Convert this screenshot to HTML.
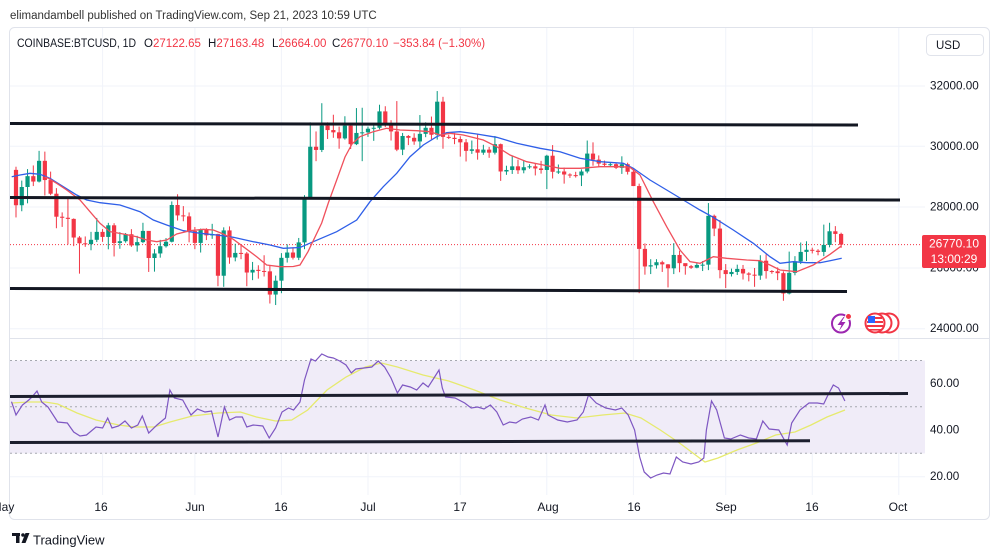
<!DOCTYPE html>
<html><head><meta charset="utf-8">
<style>
html,body{margin:0;padding:0;background:#fff;width:1000px;height:557px;overflow:hidden;position:relative;font-family:"Liberation Sans",sans-serif;}
svg{position:absolute;left:0;top:0;}
</style></head><body>
<svg width="1000" height="557">
  <text x="10" y="19" font-size="11.5" fill="#333" font-family="Liberation Sans, sans-serif">elimandambell published on TradingView.com, Sep 21, 2023 10:59 UTC</text>
  <rect x="9.5" y="27.5" width="980" height="492" rx="5" fill="none" stroke="#e0e3eb"/>
  <g stroke="#f0f3fa" stroke-width="1">
    <line x1="102.6" y1="28" x2="102.6" y2="495"/>
    <line x1="194.9" y1="28" x2="194.9" y2="495"/>
    <line x1="281.4" y1="28" x2="281.4" y2="495"/>
    <line x1="368" y1="28" x2="368" y2="495"/>
    <line x1="460.3" y1="28" x2="460.3" y2="495"/>
    <line x1="546.8" y1="28" x2="546.8" y2="495"/>
    <line x1="633.4" y1="28" x2="633.4" y2="495"/>
    <line x1="725.7" y1="28" x2="725.7" y2="495"/>
    <line x1="812.3" y1="28" x2="812.3" y2="495"/>
    <line x1="898.8" y1="28" x2="898.8" y2="495"/>
    <line x1="10" y1="86" x2="925" y2="86"/>
    <line x1="10" y1="146.3" x2="925" y2="146.3"/>
    <line x1="10" y1="207" x2="925" y2="207"/>
    <line x1="10" y1="268" x2="925" y2="268"/>
    <line x1="10" y1="328.7" x2="925" y2="328.7"/>
    <line x1="10" y1="476.7" x2="925" y2="476.7"/>
  </g>
  <line x1="10" y1="338.5" x2="989" y2="338.5" stroke="#e0e3eb" stroke-width="1"/>
  <!-- RSI band -->
  <rect x="10" y="360.5" width="915" height="93" fill="#f0ecf8"/>
  <g stroke="#a6a8b0" stroke-width="1" stroke-dasharray="2,3">
    <line x1="10" y1="360.5" x2="925" y2="360.5"/>
    <line x1="10" y1="406.7" x2="925" y2="406.7"/>
    <line x1="10" y1="453.3" x2="925" y2="453.3"/>
  </g>
  <line x1="10" y1="244.6" x2="922" y2="244.6" stroke="#f23645" stroke-width="1" stroke-dasharray="1,2"/>
</svg>
<div id="cd" style="position:absolute;left:0;top:0;width:1000px;height:557px"></div>
<svg width="1000" height="557">
  <!-- moving averages -->
  <polyline fill="none" stroke="#2f5fe8" stroke-width="1.3" points="11.7,176.7 20,175 30,173.3 40,174.3 50,178.3 63.3,186.7 76.7,195 86.7,200 100,202.7 120,205 140,211.7 153.3,220 166.7,225 183.3,230.7 200,233.3 216.7,235 233.3,237.3 253.3,241.7 270,245 283.3,248.3 300,247.5 313.3,241.7 336.7,231.7 356.7,220 370,201.7 383.3,186.7 396.7,173.3 410,156.7 423.3,145 436.7,136.7 446.7,132.7 460,131.7 476.7,134 496.7,137.3 516.7,143.3 540,148.3 560,151.7 580,158.3 600,161.7 623.3,163.3 633.3,168.3 650,180 666.7,190 683.3,200 700,210 713.3,217.3 733.3,230 753.3,243.3 770,256.7 780,263.3 793.3,261.7 806.7,262.7 820,262.7 830,260.7 841.7,258.3"/>
  <polyline fill="none" stroke="#f0505c" stroke-width="1.3" points="45,177 48.3,178.3 56.7,183.3 66.7,190 80,200 90,211.7 100,223.3 110,231.7 123.3,234 136.7,236.7 146.7,240 156.7,241.7 166.7,240 176.7,234 190,230.7 203.3,229.3 213.3,230 223.3,234 233.3,239.3 243.3,246.7 256.7,256.7 266.7,265 280,266.7 293.3,266.5 300,265 308,251.7 321.7,223 328.3,203 336.7,180 345,157 352,144 360,136.7 373.3,131.7 386.7,128.3 400,130 416.7,130.7 430,131.7 440,135 450,133.3 463.3,135 483.3,140 496.7,146.7 510,155 526.7,161.7 543.3,165 560,168.3 580,168.3 600,166.7 620,166.7 630,167.3 640,175 653.3,201.7 666.7,226.7 680,250 690,261.7 700,263.3 706.7,260 713.3,256.7 726.7,258.3 746.7,260 760,260.7 770,265 780,270 796.7,271.7 813.3,265 830,254.3 841.7,245.7"/>
  <!-- black trend lines main -->
  <g stroke="#131722" stroke-width="3" stroke-linecap="butt">
    <line x1="10" y1="123.5" x2="858" y2="125"/>
    <line x1="10" y1="197.5" x2="900" y2="200"/>
    <line x1="10" y1="288.5" x2="847" y2="291.5"/>
  </g>
  <!-- RSI -->
  <polyline fill="none" stroke="#e6ea6e" stroke-width="1.3" points="11.5,403 28.8,402 45,402 57.7,404 77,413 96,420 118.6,425 134.6,427 153.8,427 170,422 192.3,416 218,413 240.4,412 256.4,417 275.6,421 291.7,420 307.7,410 327,390 346,377 365.4,367 381.4,363 397.4,367 423,375 448.7,381 474.4,390 500,400 525.6,408 551.3,415 577,418 602.6,415 625,413 641,418 660.3,430 679.5,443 695.5,455 705,462 718,458 737,450 756.4,443 775.6,435 795,432 811,425 827,417 845,410"/>
  <polyline fill="none" stroke="#7e57c2" stroke-width="1.2" points="11.5,401.7 16,415 22.4,405 28.8,400 32,397 37,391 41.7,402 48,407 57.7,422 67.3,423 73.7,432 80,436 86.5,435 96,427 102.6,428 107.7,418 112,428 118.6,426 125,421 131.4,428 137.8,425 142.3,416 148.7,433 157,425 165.4,418 169.9,390 174.4,398 182.7,400 191,415 197.4,409 205,412 211.5,411 218,437 224.4,407 229.5,420 235.9,417 242.3,417 246.8,427 253.2,425 262.8,426 269.2,438 275.6,428 282,412 288.5,408 293.6,410 300,402 304.5,380 311,359 315.4,361 321.8,354 328.2,357 333.3,358 339.7,361 346,365 351.3,373 355.8,369 364,368 371.8,367 378.2,361 384.6,367 391,378 397.4,393 402.6,385 410.3,387 416.7,390 423,383 428.2,387 432.7,380 439,370 442.3,388 445.5,397 455,398 464.7,403 471.2,408 477.6,407 484,409 490.4,405 496.8,412 503.2,425 509.6,422 516,423 522.4,419 530.8,417 538.5,420 545,405 548,415 557.7,420 567.3,422 577,420 583.3,412 588.5,395 596.2,403 605.8,408 615.4,410 621.8,408 628.2,415 634.6,430 639.7,457 644.2,472 650.6,478 657,475 663.5,473 670,474 676.3,457 682.7,462 691,464 698.7,462 703.8,458 706.4,430 711.5,401 716.7,410 724.4,438 730.8,439 740.4,435 748.7,438 756.4,439 762.8,421 769.2,429 778.8,430 787.2,445 791.7,423 800,410 809,403 817.3,403 823.7,404 827,397 833.3,385 838.5,388 844.9,401"/>
  <g stroke="#1c1f2e" stroke-width="3">
    <line x1="10" y1="396.5" x2="908" y2="393.5"/>
    <line x1="10" y1="442.5" x2="810" y2="440.8"/>
  </g>
  <!-- icons -->
  <circle cx="841" cy="323.5" r="9" fill="#fff" stroke="#9c27b0" stroke-width="2"/>
  <path d="M843.5,317 L837.5,325 L841.5,325 L839,331 L845.5,322 L841.5,322 L844.5,317 Z" fill="#9c27b0"/>
  <circle cx="848.5" cy="316.5" r="3" fill="#f23645" stroke="#fff" stroke-width="1"/>
  <circle cx="889" cy="323" r="9.5" fill="#fff" stroke="#f23645" stroke-width="2"/>
  <circle cx="882" cy="323" r="9.5" fill="#fff" stroke="#f23645" stroke-width="2"/>
  <circle cx="875" cy="323" r="9.5" fill="#fff" stroke="#f23645" stroke-width="2"/>
  <g>
    <rect x="868" y="317" width="14" height="2" fill="#f23645"/>
    <rect x="867" y="321" width="16" height="2" fill="#f23645"/>
    <rect x="867" y="325" width="16" height="2" fill="#f23645"/>
    <rect x="868" y="329" width="14" height="1.6" fill="#f23645"/>
    <rect x="868" y="316" width="7" height="7" fill="#2962ff"/>
  </g>
  <!-- header row 2 -->
  <g font-family="Liberation Sans, sans-serif" font-size="11.5">
    <text x="17" y="47" fill="#131722" textLength="119" lengthAdjust="spacingAndGlyphs">COINBASE:BTCUSD, 1D</text>
    <text x="144" y="47" fill="#131722">O<tspan fill="#f23645">27122.65</tspan></text>
    <text x="208" y="47" fill="#131722">H<tspan fill="#f23645">27163.48</tspan></text>
    <text x="272" y="47" fill="#131722">L<tspan fill="#f23645">26664.00</tspan></text>
    <text x="332" y="47" fill="#131722">C<tspan fill="#f23645">26770.10</tspan></text>
    <text x="393" y="47" fill="#f23645">−353.84 (−1.30%)</text>
  </g>
  <!-- USD box -->
  <rect x="926.5" y="34.5" width="57" height="21" rx="4" fill="#fff" stroke="#e0e3eb"/>
  <text x="936" y="49" font-family="Liberation Sans, sans-serif" font-size="11.5" fill="#131722">USD</text>
  <!-- price axis -->
  <g font-family="Liberation Sans, sans-serif" font-size="11.7" fill="#131722" dominant-baseline="central">
    <text x="930" y="86">32000.00</text>
    <text x="930" y="146.3">30000.00</text>
    <text x="930" y="207">28000.00</text>
    <text x="930" y="268">26000.00</text>
    <text x="930" y="328.7">24000.00</text>
    <text x="930" y="383.5">60.00</text>
    <text x="930" y="430">40.00</text>
    <text x="930" y="476.7">20.00</text>
  </g>
  <rect x="922" y="235" width="64" height="33" rx="2" fill="#f23645"/>
  <g font-family="Liberation Sans, sans-serif" font-size="12" fill="#fff" dominant-baseline="central" text-anchor="middle">
    <text x="954" y="243.5">26770.10</text>
    <text x="954" y="259">13:00:29</text>
  </g>
  <!-- time axis -->
  <g font-family="Liberation Sans, sans-serif" font-size="12" fill="#131722" text-anchor="middle" dominant-baseline="central">
    <text x="3" y="507">May</text>
    <text x="101" y="507">16</text>
    <text x="195" y="507">Jun</text>
    <text x="281" y="507">16</text>
    <text x="368" y="507">Jul</text>
    <text x="460" y="507">17</text>
    <text x="548" y="507">Aug</text>
    <text x="634" y="507">16</text>
    <text x="726" y="507">Sep</text>
    <text x="812" y="507">16</text>
    <text x="898" y="507">Oct</text>
  </g>
  <!-- TradingView logo -->
  <g fill="#131722">
    <rect x="12" y="533" width="8" height="3"/>
    <rect x="16" y="533" width="3.5" height="10"/>
    <circle cx="23" cy="535" r="1.8"/>
    <path d="M25.5,533 L29.5,533 L25.5,543 L21.5,543 Z"/>
  </g>
  <text x="33" y="544.5" font-family="Liberation Sans, sans-serif" font-size="13" fill="#131722">TradingView</text>
</svg>
<script>
var D=[
[29337,27666,28068],[28880,27870,28669],[29259,28131,29026],[29379,28700,28848],[29860,28818,29531],
[29835,28388,28898],[29176,28400,28448],[28632,27310,27690],[27832,27354,27655],[28319,26777,27618],
[27634,26721,27004],[27052,25814,26814],[27040,26698,26786],[27191,26584,26929],[27650,26854,27190],
[27281,26862,27024],[27488,26616,27407],[27476,26380,26823],[27181,26634,26882],[27154,26834,27112],
[27280,26697,26744],[27060,26540,26852],[27490,26818,27222],[27220,25870,26329],[26620,25880,26479],
[26927,26341,26718],[26987,26673,26865],[28193,26843,28076],[28430,27563,27733],[28040,27540,27701],
[27830,26847,27217],
[27350,26620,26827],[27300,26510,27252],[27310,26920,27075],[27455,26960,27118],[27130,25400,25745],
[27340,25380,27239],[27370,26140,26347],[26800,26220,26497],[26780,26290,26479],[26530,25400,25851],
[26200,25600,25940],[26090,25650,25903],[26420,25720,25890],[26080,24830,25125],[25750,24780,25582],
[26490,25170,26335],[26780,26180,26510],[26680,26280,26339],[26990,26260,26844],[28400,26620,28307],
[30800,28260,29995],[30500,29520,29890],[31430,29820,30690],[30800,30250,30545],[31050,30290,30470],
[30660,29930,30270],[31000,30230,30690],[30700,29920,30080],[31270,30050,30450],[31280,29520,30470],
[30660,30320,30590],[30780,30190,30620],[31380,30570,31160],[31330,30640,30770],[30870,30200,30500],
[31500,29850,29900],[30450,29720,30350],[30380,30050,30290],[30440,30060,30170],[31040,29950,30420],
[30800,30310,30620],[30990,30240,30390],[31830,30230,31480],[31640,29930,30320],[30390,30250,30290],
[30450,30080,30250],[30340,29670,30140],[30250,29510,29860],[30200,29760,29910],[30420,29570,29800],
[30060,29730,29900],[29990,29630,29800],[30350,29740,30080],[30100,28870,29180],[29370,29070,29230],
[29690,29100,29350],[29570,29100,29220],[29530,29120,29320],[29420,29270,29350],[29460,29050,29280],
[29530,29110,29230],
[29730,28600,29700],[30050,28950,29170],[29410,29100,29180],[29310,28780,29080],[29120,28970,29060],
[29170,28980,29050],[29250,28700,29180],[30200,29120,29770],[30140,29370,29570],[29710,29330,29440],
[29540,29330,29400],[29460,29360,29420],[29450,29260,29300],[29680,29100,29420],[29470,29080,29170],
[29260,28700,28700],[28780,25170,26630],[26810,25780,26050],[26290,25800,26090],[26290,25980,26190],
[26240,25870,26120],[26130,25360,25990],[26820,25800,26430],[26570,25860,26160],[26130,25780,26060],
[26100,25970,26010],[26170,25990,26100],[26230,25900,26110],[28140,25930,27720],[27760,27050,27300],
[27580,25660,25930],
[26130,25340,25800],[25980,25720,25870],[26110,25770,25970],[26100,25620,25820],[25860,25560,25780],
[26000,25380,25750],[26420,25610,26240],[26450,25650,25900],[25930,25810,25890],[26020,25600,25830],
[25890,24920,25160],[26540,25130,25840],[26390,25760,26220],[26840,26130,26530],[26880,26230,26600],
[26670,26480,26570],[26620,26420,26530],[27430,26390,26760],[27490,26680,27210],[27380,26850,27122.65],
[27163.48,26664,26770.10]
];
function Y(p){return 268-(p-26000)*0.03035;}
var s='<svg width="1000" height="557" style="position:absolute;left:0;top:0">';
var o=29233;
for(var i=0;i<D.length;i++){
  var h=D[i][0],l=D[i][1],c=D[i][2];
  var xc=16+i*5.77;
  var col=c>=o?'#089981':'#f23645';
  var yt=Y(Math.max(o,c)),yb=Y(Math.min(o,c));
  var bh=Math.max(1,yb-yt);
  s+='<rect x="'+(xc-0.5).toFixed(2)+'" y="'+Y(h).toFixed(2)+'" width="1" height="'+(Y(l)-Y(h)).toFixed(2)+'" fill="'+col+'"/>';
  s+='<rect x="'+(xc-2.1).toFixed(2)+'" y="'+yt.toFixed(2)+'" width="4.2" height="'+bh.toFixed(2)+'" fill="'+col+'"/>';
  o=c;
}
s+='</svg>';
document.getElementById('cd').innerHTML=s;
</script>
</body></html>
